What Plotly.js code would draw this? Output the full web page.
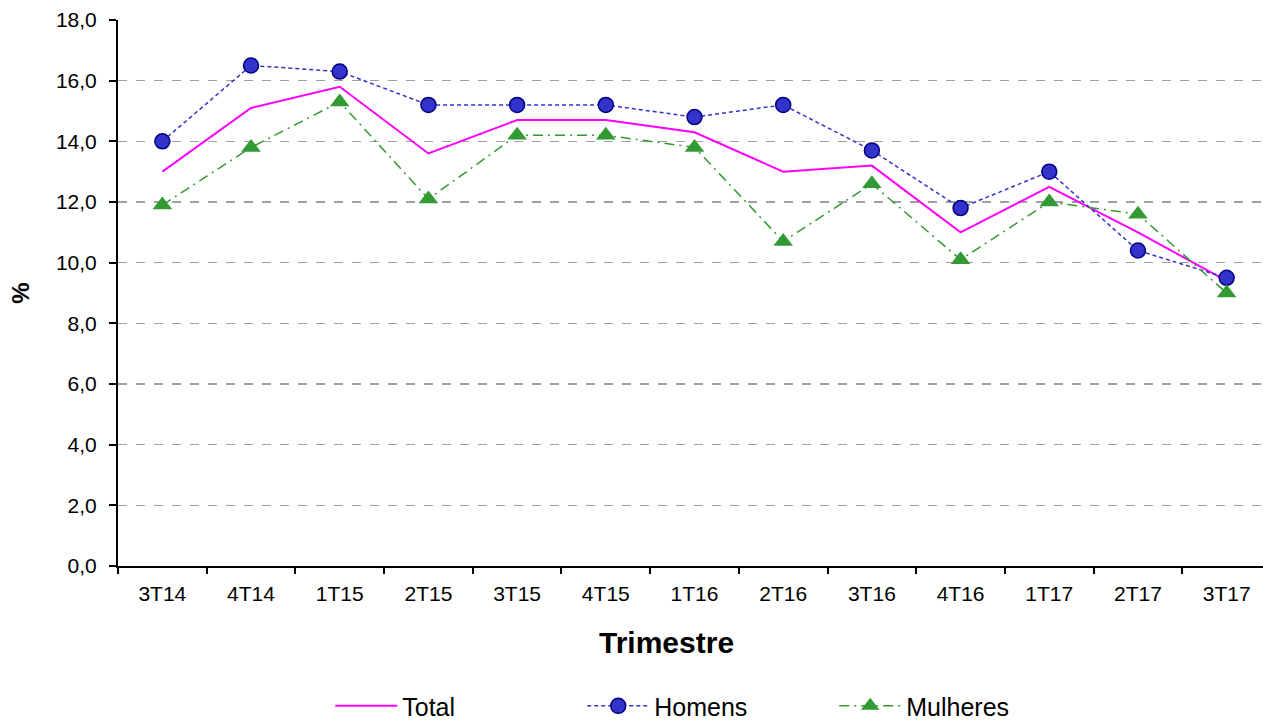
<!DOCTYPE html>
<html>
<head>
<meta charset="utf-8">
<script src="https://cdn.plot.ly/plotly-3.0.1.min.js"></script>
<style>
html,body{margin:0;padding:0;overflow:hidden;background:#fff;}
#chart{width:1280px;height:722px;}
</style>
</head>
<body>
<div id="chart"></div>
<script>
var categories = ["3T14","4T14","1T15","2T15","3T15","4T15","1T16","2T16","3T16","4T16","1T17","2T17","3T17"];
var total    = [13.0, 15.1, 15.8, 13.6, 14.7, 14.7, 14.3, 13.0, 13.2, 11.0, 12.5, 11.0, 9.4];
var homens   = [14.0, 16.5, 16.3, 15.2, 15.2, 15.2, 14.8, 15.2, 13.7, 11.8, 13.0, 10.4, 9.5];
var mulheres = [11.9, 13.8, 15.3, 12.1, 14.2, 14.2, 13.8, 10.7, 12.6, 10.1, 12.0, 11.6, 9.0];
var yTicks = [0,2,4,6,8,10,12,14,16,18];

var font = "Arial, 'Liberation Sans', sans-serif";

var traces = [
  {x: categories, y: total, name: "Total", type: "scatter", mode: "lines",
   line: {color: "#FF00FF", width: 2}},
  {x: categories, y: homens, name: "Homens", type: "scatter", mode: "lines+markers",
   line: {color: "#3333CC", width: 1.5, dash: "4px,3px"},
   marker: {symbol: "circle", size: 15, color: "#3333CC", line: {color: "#000080", width: 1.5}}},
  {x: categories, y: mulheres, name: "Mulheres", type: "scatter", mode: "lines+markers",
   line: {color: "#339933", width: 1.5, dash: "10px,5px,2px,5px"},
   marker: {symbol: "triangle-up", size: 17, color: "#339933", line: {width: 0}}}
];

var layout = {
  width: 1280, height: 722,
  margin: {l: 118, r: 9, t: 20, b: 156},
  paper_bgcolor: "#fff", plot_bgcolor: "#fff",
  separators: ",.",
  font: {family: font, color: "#000", size: 21},
  showlegend: true,
  legend: {orientation: "h", xref: "container", x: 0.258, xanchor: "left",
           yref: "container", y: 0.022, yanchor: "middle",
           font: {size: 25, family: font}, entrywidth: 175, itemwidth: 62, traceorder: "normal"},
  annotations: [
    {text: "<b>Trimestre</b>", xref: "paper", yref: "paper", x: 0.4757, y: (566 - 642) / 546,
     xanchor: "center", yanchor: "middle", showarrow: false, font: {size: 30, family: font}}
  ],
  xaxis: {
    type: "category", categoryorder: "array", categoryarray: categories,
    range: [-0.5, 12.5], automargin: false,
    showline: true, linecolor: "#000", linewidth: 2,
    ticks: "outside", ticklen: 6, tickwidth: 2, tickcolor: "#000", tickson: "boundaries",
    ticklabelstandoff: 8,
    showgrid: false, zeroline: false,
    tickfont: {size: 21, family: font}
  },
  yaxis: {
    range: [0, 18], tickvals: yTicks, tickformat: ".1f", automargin: false,
    showline: true, linecolor: "#000", linewidth: 2,
    ticks: "outside", ticklen: 7, tickwidth: 2, tickcolor: "#000",
    ticklabelstandoff: 8,
    showgrid: true, gridcolor: "#A0A0A0", gridwidth: 1.5, griddash: "dash",
    zeroline: false,
    tickfont: {size: 21, family: font},
    title: {text: "<b>%</b>", font: {size: 24, family: font}, standoff: 20}
  }
};

Plotly.newPlot("chart", traces, layout, {displayModeBar: false, staticPlot: true});
</script>
</body>
</html>
